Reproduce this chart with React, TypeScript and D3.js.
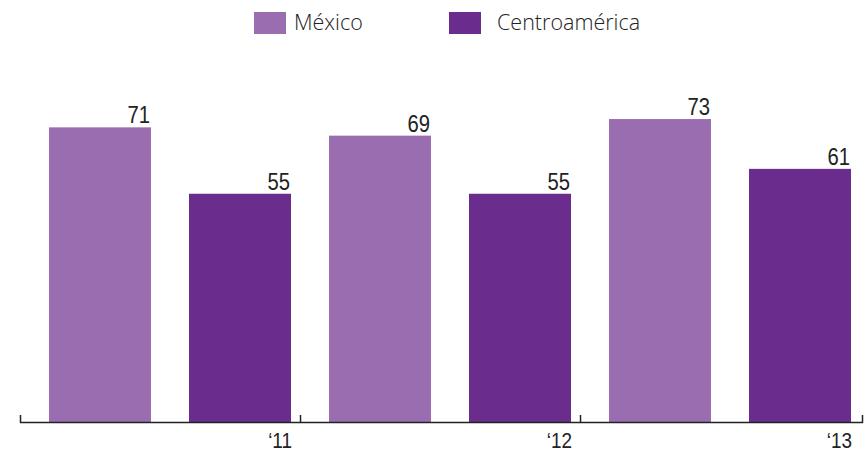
import React from "react";
import * as d3 from "d3";

const years = ["‘11", "‘12", "‘13"];
const seriesNames = ["México", "Centroamérica"];
const mexico = [71, 69, 73];
const centro = [55, 55, 61];
const colors = ["#9a6db0", "#6a2d8d"];

export default function App() {
  const W = 867, H = 452;
  const x0 = d3.scaleBand().domain(years).range([20, 860]).paddingInner(0).paddingOuter(0);
  const x1 = d3.scaleBand().domain(seriesNames).range([29, 271]).paddingInner(38 / 140).paddingOuter(0);
  const y = d3.scaleLinear().domain([0, 100]).range([422, 7]);
  const data = years.map((yr, i) => ({ yr, vals: [mexico[i], centro[i]] }));
  const numFont = "'Liberation Sans', Arial, sans-serif";
  const legendPos = [
    { sx: 254, tx: 294 },
    { sx: 449, tx: 497 },
  ];
  return (
    <svg width={W} height={H} style={{ position: "absolute", left: 0, top: 0 }}>
      {seriesNames.map((s, i) => (
        <g key={s}>
          <rect x={legendPos[i].sx} y={12} width={32} height={22} fill={colors[i]} />
          <text x={legendPos[i].tx} y={30} fontFamily="'Open Sans', sans-serif" fontWeight={300} fontSize={21.5} fill="#222">{s}</text>
        </g>
      ))}
      {data.map((d) => (
        <g key={d.yr} transform={`translate(${x0(d.yr)},0)`}>
          {d.vals.map((v, j) => {
            const bx = x1(seriesNames[j]) as number;
            return (
              <g key={j}>
                <rect x={bx} y={y(v)} width={x1.bandwidth()} height={422 - y(v)} fill={colors[j]} />
                <text transform={`translate(${bx + x1.bandwidth() - 1},${y(v) - 4}) scale(0.88,1)`} textAnchor="end"
                  fontFamily={numFont} fontSize={23} fill="#222">{v}</text>
              </g>
            );
          })}
        </g>
      ))}
      <line x1={20} x2={863} y1={422.5} y2={422.5} stroke="#222" strokeWidth={1.5} />
      {[0, 1, 2, 3].map((i) => {
        const tx = i < 3 ? (x0(years[i]) as number) : 862;
        return <line key={i} x1={tx + 0.5} x2={tx + 0.5} y1={415} y2={423} stroke="#222" strokeWidth={1.5} />;
      })}
      {years.map((yr) => (
        <text key={yr} transform={`translate(${(x0(yr) as number) + x0.bandwidth() - 8},448) scale(0.88,1)`} textAnchor="end"
          fontFamily={numFont} fontSize={21.5} fill="#222">{yr}</text>
      ))}
    </svg>
  );
}
